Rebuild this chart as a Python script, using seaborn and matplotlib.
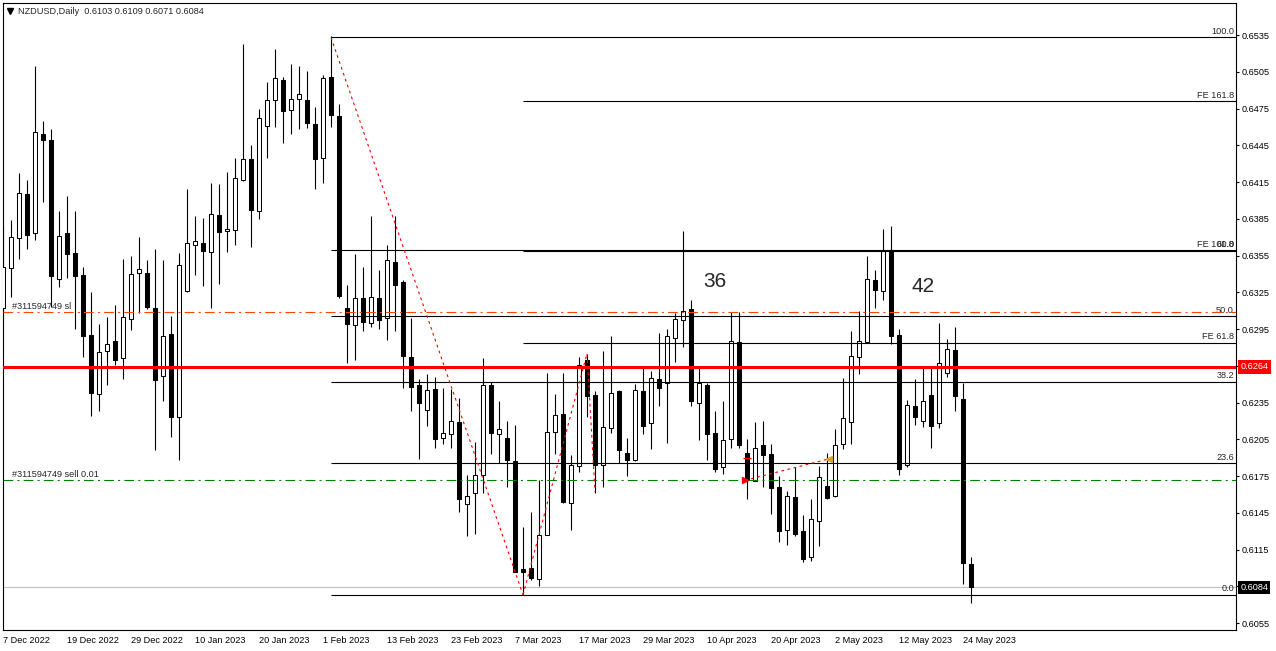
import numpy as np
import pandas as pd
import matplotlib
matplotlib.use("Agg")
import matplotlib.pyplot as plt
import matplotlib.transforms as mtransforms
from matplotlib.lines import Line2D
import seaborn as sns

# NZDUSD daily bars, 7 Dec 2022 .. 25 May 2023 (x = bar number)
opens = [0.6312, 0.6345, 0.6369, 0.6405, 0.6373, 0.6454, 0.6449, 0.6336, 0.6373, 0.6357,
         0.6339, 0.6290, 0.6242, 0.6277, 0.6285, 0.6271, 0.6303, 0.6341, 0.6341, 0.6312,
         0.6257, 0.6291, 0.6223, 0.6326, 0.6364, 0.6365, 0.6358, 0.6388, 0.6375, 0.6376,
         0.6417, 0.6434, 0.6391, 0.6461, 0.6482, 0.6498, 0.6474, 0.6483, 0.6482, 0.6462,
         0.6435, 0.6501, 0.6469, 0.6312, 0.6298, 0.6320, 0.6300, 0.6320, 0.6304, 0.6350,
         0.6333, 0.6272, 0.6249, 0.6229, 0.6246, 0.6206, 0.6209, 0.6219, 0.6152, 0.6161,
         0.6176, 0.6249, 0.6209, 0.6206, 0.6187, 0.6099, 0.6100, 0.6091, 0.6127, 0.6211,
         0.6226, 0.6153, 0.6183, 0.6270, 0.6241, 0.6184, 0.6214, 0.6244, 0.6194, 0.6188,
         0.6244, 0.6218, 0.6254, 0.6251, 0.6288, 0.6302, 0.6311, 0.6235, 0.6249, 0.6210,
         0.6182, 0.6205, 0.6284, 0.6194, 0.6171, 0.6200, 0.6193, 0.6166, 0.6131, 0.6158,
         0.6130, 0.6109, 0.6138, 0.6167, 0.6159, 0.6201, 0.6219, 0.6272, 0.6284, 0.6335,
         0.6326, 0.6359, 0.6290, 0.6184, 0.6232, 0.6220, 0.6241, 0.6218, 0.6259, 0.6278,
         0.6238, 0.6103]
highs = [0.6379, 0.6384, 0.6422, 0.6417, 0.6510, 0.6465, 0.6458, 0.6391, 0.6404, 0.6391,
         0.6346, 0.6325, 0.6299, 0.6305, 0.6315, 0.6352, 0.6355, 0.6370, 0.6351, 0.6360,
         0.6351, 0.6306, 0.6357, 0.6409, 0.6387, 0.6386, 0.6414, 0.6413, 0.6423, 0.6435,
         0.6528, 0.6445, 0.6475, 0.6497, 0.6524, 0.6501, 0.6511, 0.6510, 0.6506, 0.6476,
         0.6502, 0.6534, 0.6479, 0.6331, 0.6356, 0.6346, 0.6387, 0.6343, 0.6364, 0.6387,
         0.6335, 0.6304, 0.6254, 0.6258, 0.6256, 0.6247, 0.6246, 0.6239, 0.6176, 0.6203,
         0.6271, 0.6252, 0.6236, 0.6220, 0.6217, 0.6133, 0.6146, 0.6172, 0.6259, 0.6242,
         0.6259, 0.6192, 0.6272, 0.6275, 0.6244, 0.6277, 0.6289, 0.6245, 0.6206, 0.6250,
         0.6263, 0.6261, 0.6292, 0.6295, 0.6308, 0.6375, 0.6319, 0.6263, 0.6251, 0.6228,
         0.6236, 0.6309, 0.6309, 0.6205, 0.6219, 0.6220, 0.6201, 0.6175, 0.6163, 0.6182,
         0.6143, 0.6156, 0.6183, 0.6194, 0.6213, 0.6255, 0.6293, 0.6310, 0.6355, 0.6343,
         0.6377, 0.6379, 0.6295, 0.6237, 0.6254, 0.6263, 0.6263, 0.6300, 0.6287, 0.6297,
         0.6251, 0.6109]
lows = [0.6305, 0.6321, 0.6352, 0.6360, 0.6368, 0.6399, 0.6313, 0.6329, 0.6337, 0.6295,
        0.6272, 0.6224, 0.6228, 0.6249, 0.6266, 0.6254, 0.6294, 0.6308, 0.6311, 0.6196,
        0.6236, 0.6207, 0.6188, 0.6325, 0.6339, 0.6330, 0.6312, 0.6332, 0.6358, 0.6364,
        0.6416, 0.6362, 0.6385, 0.6435, 0.6460, 0.6447, 0.6454, 0.6458, 0.6459, 0.6409,
        0.6414, 0.6460, 0.6320, 0.6267, 0.6270, 0.6293, 0.6297, 0.6295, 0.6286, 0.6293,
        0.6247, 0.6228, 0.6189, 0.6216, 0.6198, 0.6201, 0.6198, 0.6146, 0.6126, 0.6128,
        0.6161, 0.6193, 0.6186, 0.6166, 0.6097, 0.6078, 0.6090, 0.6085, 0.6127, 0.6193,
        0.6153, 0.6131, 0.6178, 0.6223, 0.6161, 0.6166, 0.6210, 0.6186, 0.6175, 0.6187,
        0.6209, 0.6197, 0.6232, 0.6202, 0.6268, 0.6280, 0.6232, 0.6204, 0.6188, 0.6178,
        0.6177, 0.6198, 0.6198, 0.6156, 0.6171, 0.6166, 0.6144, 0.6121, 0.6119, 0.6126,
        0.6105, 0.6106, 0.6118, 0.6156, 0.6158, 0.6197, 0.6201, 0.6258, 0.6284, 0.6312,
        0.6319, 0.6283, 0.6176, 0.6182, 0.6217, 0.6215, 0.6198, 0.6214, 0.6256, 0.6228,
        0.6087, 0.6071]
closes = [0.6346, 0.6370, 0.6406, 0.6372, 0.6456, 0.6449, 0.6338, 0.6371, 0.6356, 0.6338,
          0.6289, 0.6243, 0.6276, 0.6283, 0.6270, 0.6305, 0.6340, 0.6344, 0.6313, 0.6253,
          0.6289, 0.6223, 0.6347, 0.6365, 0.6367, 0.6359, 0.6389, 0.6374, 0.6377, 0.6418,
          0.6434, 0.6392, 0.6467, 0.6482, 0.6500, 0.6473, 0.6483, 0.6487, 0.6463, 0.6434,
          0.6500, 0.6470, 0.6322, 0.6299, 0.6320, 0.6301, 0.6321, 0.6302, 0.6351, 0.6331,
          0.6273, 0.6248, 0.6235, 0.6245, 0.6205, 0.6210, 0.6220, 0.6156, 0.6159, 0.6176,
          0.6249, 0.6210, 0.6213, 0.6188, 0.6097, 0.6097, 0.6092, 0.6127, 0.6211, 0.6225,
          0.6154, 0.6184, 0.6266, 0.6240, 0.6184, 0.6215, 0.6243, 0.6196, 0.6188, 0.6245,
          0.6216, 0.6255, 0.6247, 0.6289, 0.6303, 0.6310, 0.6236, 0.6251, 0.6209, 0.6181,
          0.6204, 0.6285, 0.6200, 0.6172, 0.6198, 0.6192, 0.6165, 0.6130, 0.6159, 0.6128,
          0.6107, 0.6140, 0.6174, 0.6157, 0.6200, 0.6222, 0.6273, 0.6285, 0.6336, 0.6327,
          0.6359, 0.6289, 0.6181, 0.6233, 0.6223, 0.6236, 0.6216, 0.6267, 0.6279, 0.6240,
          0.6104, 0.6084]

date_labels = ["7 Dec 2022", "19 Dec 2022", "29 Dec 2022", "10 Jan 2023", "20 Jan 2023",
               "1 Feb 2023", "13 Feb 2023", "23 Feb 2023", "7 Mar 2023", "17 Mar 2023",
               "29 Mar 2023", "10 Apr 2023", "20 Apr 2023", "2 May 2023", "12 May 2023",
               "24 May 2023"]
price_ticks = [0.6055, 0.6085, 0.6115, 0.6145, 0.6175, 0.6205, 0.6235, 0.6265, 0.6295,
               0.6325, 0.6355, 0.6385, 0.6415, 0.6445, 0.6475, 0.6505, 0.6535]

# fibo retracement (bar 41 high -> bar 65 low)
fib_bars = [41, 65]
fib_prices = [0.6533, 0.6078]
fib_levels = [0.0, 23.6, 38.2, 50.0, 61.8, 100.0]
# fibo expansion points (bar 65 -> bar 73 -> bar 74)
fe_bars = [65, 73, 74]
fe_prices = [0.6078, 0.6275, 0.6162]
fe_levels = [61.8, 100.0, 161.8]

bid_price = 0.6084
red_level = 0.6264
sl_price = 0.63086
sell_price = 0.61715
trade_bars = [92.75, 103.25]
trade_prices = [0.61715, 0.6189]

df = pd.DataFrame({"open": opens, "high": highs, "low": lows, "close": closes})
df["bar"] = np.arange(len(df))
df["up"] = df["close"] >= df["open"]

sns.set_style("white")
plt.rcParams["font.family"] = ["Liberation Sans", "DejaVu Sans"]
plt.rcParams["lines.scale_dashes"] = False

W, H = 1276, 651
fig = plt.figure(figsize=(W / 100, H / 100), dpi=100)
left_px, right_px, top_px, bot_px = 2.7, 1236, 2.7, 629.5
ax = fig.add_axes([left_px / W, 1 - bot_px / H, (right_px - left_px) / W, (bot_px - top_px) / H])

x_max = 154.12
ax.set_xlim(-0.04, x_max)
ax.set_ylim(0.60497, 0.65614)

# candles
ax.vlines(df["bar"], df["low"], df["high"], color="black", lw=0.8, zorder=3)
body_lo = df[["open", "close"]].min(axis=1)
body_h = (df["close"] - df["open"]).abs().clip(lower=0.00005)
up = df["up"]
ax.bar(df.loc[up, "bar"], body_h[up], bottom=body_lo[up], width=0.52,
       color="white", edgecolor="black", linewidth=0.75, zorder=4)
ax.bar(df.loc[~up, "bar"], body_h[~up], bottom=body_lo[~up], width=0.52,
       color="black", edgecolor="black", linewidth=0.75, zorder=4)

trans = mtransforms.blended_transform_factory(ax.transAxes, ax.transData)
lab_x = (1234 - left_px) / (right_px - left_px)

# fibo retracement lines
hi, lo = fib_prices
for lev in fib_levels:
    p = lo + (hi - lo) * lev / 100
    ax.hlines(p, fib_bars[0], x_max, color="black", lw=0.8, zorder=5)
    ax.annotate(f"{lev:.1f}", xy=(lab_x, p), xycoords=trans, xytext=(0, 1.5),
                textcoords="offset pixels", ha="right", va="bottom", fontsize=6.6)

# fibo expansion lines
a, b, c = fe_prices
for lev in fe_levels:
    p = c + (b - a) * lev / 100
    ax.hlines(p, fe_bars[0], x_max, color="black", lw=0.8, zorder=5)
    ax.annotate(f"FE {lev:.1f}", xy=(lab_x, p), xycoords=trans, xytext=(0, 1.5),
                textcoords="offset pixels", ha="right", va="bottom", fontsize=6.6)

# trendlines
sns.lineplot(x=fib_bars, y=fib_prices, color="red", lw=0.8, linestyle=(0, (2, 2.5)),
             sort=False, estimator=None, ax=ax, zorder=6)
sns.lineplot(x=fe_bars, y=fe_prices, color="red", lw=0.8, linestyle=(0, (2, 2.5)),
             sort=False, estimator=None, ax=ax, zorder=6)

# order lines
dashdot = (0, (7, 3, 1.5, 3))
ax.axhline(sl_price, color="#FF4500", lw=0.8, linestyle=dashdot, zorder=5)
ax.axhline(sell_price, color="#008000", lw=0.8, linestyle=dashdot, zorder=5)
ax.annotate("#311594749 sl", xy=(0, sl_price), xycoords=trans, xytext=(9, 1.5),
            textcoords="offset pixels", ha="left", va="bottom", fontsize=6.6)
ax.annotate("#311594749 sell 0.01", xy=(0, sell_price), xycoords=trans, xytext=(9, 1.5),
            textcoords="offset pixels", ha="left", va="bottom", fontsize=6.6)
ax.axhline(red_level, color="#FF0000", lw=2.2, zorder=6)
ax.axhline(bid_price, color="#C0C0C0", lw=0.8, zorder=2)

# closed trade
ax.plot(trade_bars, trade_prices, color="red", lw=0.8, linestyle=(0, (2, 2.5)), zorder=7)
ax.plot(trade_bars[0], trade_prices[0], marker=">", color="red", ms=5, zorder=8)
ax.plot(trade_bars[1], trade_prices[1], marker="<", color="#DAA520", ms=5, zorder=8)
ax.hlines(0.6190, 92.5, 93.5, color="red", lw=1, zorder=8)

# wave counts
ax.text(89, 0.63291, "36", ha="center", va="baseline", fontsize=15)
ax.text(115, 0.63255, "42", ha="center", va="baseline", fontsize=15)

# axes
for s in ax.spines.values():
    s.set_color("black")
    s.set_linewidth(0.8)
ax.set_xticks(range(0, 121, 8))
ax.set_xticklabels(date_labels, ha="left")
ax.set_yticks(price_ticks)
ax.set_yticklabels([f"{t:.4f}" for t in price_ticks])
ax.tick_params(axis="x", length=3, width=0.8, pad=1.5, labelsize=6.6, colors="black")
ax.tick_params(axis="y", left=False, right=True, labelleft=False, labelright=True,
               length=2.5, width=0.8, pad=1.5, labelsize=6.6, colors="black")

ax.text(1.0035, red_level, "0.6264", transform=trans, color="white", fontsize=6.6,
        ha="left", va="center", bbox=dict(boxstyle="square,pad=0.25", fc="#FF0000", ec="none"))
ax.text(1.0035, bid_price, "0.6084", transform=trans, color="white", fontsize=6.6,
        ha="left", va="center", bbox=dict(boxstyle="square,pad=0.25", fc="black", ec="none"))

# header
fig.add_artist(Line2D([9.7 / W], [1 - 11 / H], marker="v", ms=4, color="black",
                      transform=fig.transFigure))
fig.text(18 / W, 1 - 11 / H, "NZDUSD,Daily  0.6103 0.6109 0.6071 0.6084",
         ha="left", va="center", fontsize=6.6)

fig.savefig("out.png", dpi=100)
